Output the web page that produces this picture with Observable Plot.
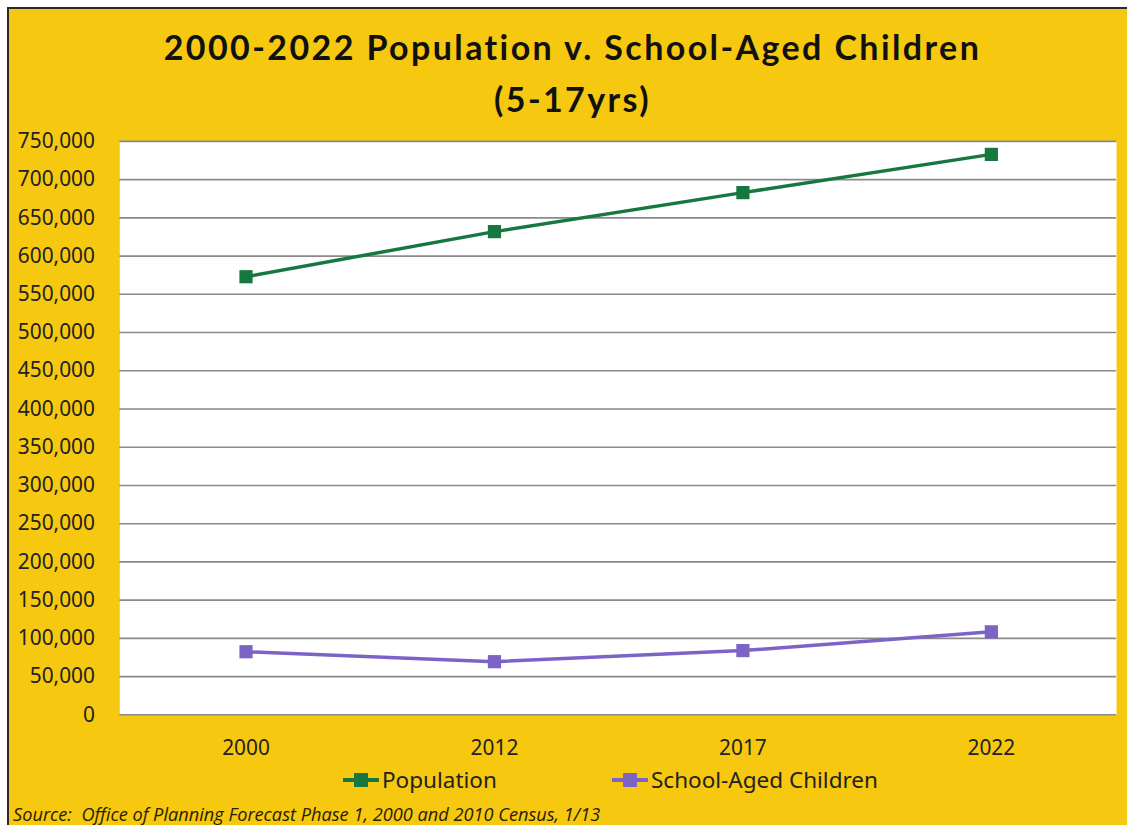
<!DOCTYPE html>
<html>
<head>
<meta charset="utf-8">
<script src="https://cdn.jsdelivr.net/npm/d3@7"></script>
<script src="https://cdn.jsdelivr.net/npm/@observablehq/plot@0.6"></script>
<style>
  html, body { margin: 0; padding: 0; background: #fff; }
  #wrap { position: absolute; left: 7px; top: 7px; width: 1118px; height: 816px;
          background: #F6C80F; border-left: 2px solid #2a2a2a; border-top: 2px solid #2a2a2a; overflow: hidden; }
  #title { position: absolute; left: 0; width: 1127px; top: 12px; text-align: center;
           font-family: Lato, sans-serif; font-weight: 700; font-size: 34px; letter-spacing: 2.4px; line-height: 52px; color: #111; }
  #chart { position: absolute; left: -2px; top: 116px; }
  #legend { position: absolute; top: 755px; left: 0; width: 1118px; font-family: "Noto Sans", sans-serif;
            font-size: 22.5px; color: #222; }
  .li { position: absolute; top: 0; display: flex; align-items: center; }
  .li svg { margin-right: 3px; }
  #source { position: absolute; left: 4px; top: 793px; font-family: "Open Sans", sans-serif; font-style: italic;
            font-size: 18.2px; color: #2a2000; }
</style>
</head>
<body>
<div id="wrap">
  <div id="title">2000-2022 Population v. School-Aged Children<br>(5-17yrs)</div>
  <div id="chart"></div>
  <div id="legend"></div>
  <div id="source">Source:&nbsp; Office of Planning Forecast Phase 1, 2000 and 2010 Census, 1/13</div>
</div>
<script>
const years = ["2000", "2012", "2017", "2022"];
const population = [573000, 632000, 683000, 733000];
const schoolAged = [82500, 69500, 84000, 108500];
const seriesNames = ["Population", "School-Aged Children"];
const seriesColors = ["#16783F", "#7E63C6"];
const yTicks = d3.range(0, 750001, 50000);

const data = [];
years.forEach((y, i) => {
  data.push({year: y, value: population[i], series: seriesNames[0]});
  data.push({year: y, value: schoolAged[i], series: seriesNames[1]});
});

const chart = Plot.plot({
  width: 1127,
  height: 659,
  marginLeft: 113,
  marginRight: 11,
  marginTop: 16,
  marginBottom: 66,
  style: {background: "transparent", fontFamily: "Noto Sans, sans-serif", fontSize: "21px", color: "#222"},
  x: {type: "point", domain: years, padding: 0.5, label: null, tickSize: 0, tickPadding: 26},
  y: {domain: [0, 750000], ticks: yTicks, tickFormat: d3.format(","), label: null, tickSize: 0, tickPadding: 25},
  color: {domain: seriesNames, range: seriesColors},
  marks: [
    Plot.frame({fill: "white", stroke: null}),
    Plot.ruleY(yTicks, {stroke: "#8a8a8a", strokeWidth: 1.6}),
    Plot.line(data, {x: "year", y: "value", z: "series", stroke: "series", strokeWidth: 3.5}),
    Plot.dot(data, {x: "year", y: "value", fill: "series", symbol: "square", r: 7.5, stroke: null})
  ]
});
document.getElementById("chart").appendChild(chart);

const legend = document.getElementById("legend");
const legendLeft = [334, 603];
seriesNames.forEach((name, i) => {
  const item = document.createElement("div");
  item.className = "li";
  item.style.left = legendLeft[i] + "px";
  const c = seriesColors[i];
  item.innerHTML = `<svg width="36" height="20"><line x1="0" x2="36" y1="10" y2="10" stroke="${c}" stroke-width="4"/><rect x="11" y="3" width="14" height="14" fill="${c}"/></svg><span>${name}</span>`;
  legend.appendChild(item);
});
</script>
</body>
</html>
